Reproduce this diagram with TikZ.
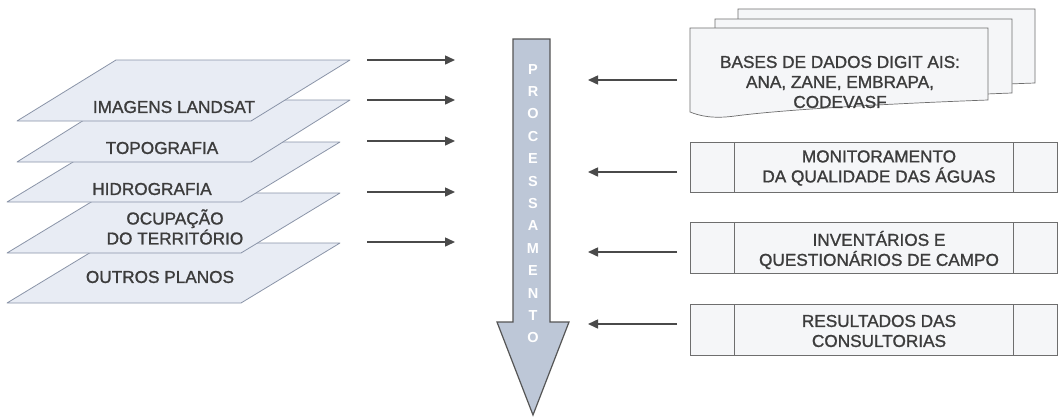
\documentclass[tikz,border=0pt]{standalone}
\usepackage{fontspec}
\setmainfont{Liberation Sans}[BoldFont={Liberation Sans}, BoldFeatures={FakeBold=1.2}]
\newfontfamily\realbold{Liberation Sans Bold}
\usetikzlibrary{arrows.meta}
\definecolor{layerfill}{HTML}{E8ECF4}
\definecolor{layerline}{HTML}{8A94A8}
\definecolor{txt}{HTML}{3C3C3C}
\definecolor{arrowc}{HTML}{4A4A4A}
\definecolor{bigfill}{HTML}{BDC7D7}
\definecolor{bigline}{HTML}{555555}
\definecolor{boxfill}{HTML}{F5F6F8}
\definecolor{boxline}{HTML}{6E6E6E}
\tikzset{
  layer/.style={draw=layerline, fill=layerfill, line width=0.8pt, line join=round},
  lbl/.style={font=\bfseries\fontsize{17.2}{20}\selectfont, text=txt, align=center, inner sep=0pt},
  flow/.style={draw=arrowc, line width=1.5pt, -{Triangle[length=10pt,width=9pt]}},
  docshape/.style={draw=boxline, fill=boxfill, line width=0.7pt},
  procbox/.style={draw=boxline, fill=boxfill, line width=0.8pt},
}
\begin{document}
\begin{tikzpicture}[x=1pt,y=-1pt]
\useasboundingbox (0,0) rectangle (1058,418);
\fill[white] (0,0) rectangle (1058,418);
% layers, bottom first
\draw[layer] (106,243) -- (340,243) -- (241,303) -- (7,303) -- cycle;
\draw[layer] (106,193) -- (340,193) -- (241,253) -- (7,253) -- cycle;
\draw[layer] (106,142) -- (340,142) -- (241,202) -- (7,202) -- cycle;
\draw[layer] (116,100) -- (350,100) -- (251,162) -- (17,162) -- cycle;
\draw[layer] (116,60) -- (350,60) -- (251,121) -- (17,121) -- cycle;
\node[lbl] (l1) at (174,107) {IMAGENS LANDSAT};
\node[lbl] (l2) at (162,148) {TOPOGRAFIA};
\node[lbl] (l3) at (152,189) {HIDROGRAFIA};
\node[lbl] (l4) at (175,227) {OCUPAÇÃO\\DO TERRITÓRIO};
\node[lbl] (l5) at (160,277) {OUTROS PLANOS};
% left arrows
\foreach \y [count=\i] in {60,100,141,192,242} {
  \coordinate (ls\i) at (367,\y);
  \coordinate (le\i) at (455,\y);
  \draw[flow] (ls\i) -- (le\i);
}
% big arrow
\draw[fill=bigfill, draw=bigline, line width=1.2pt, line join=miter]
  (513,39) -- (550,39) -- (550,322) -- (569,322) -- (533,415) -- (497,322) -- (513,322) -- cycle;
\node[font=\realbold\fontsize{14.5}{22.4}\selectfont, text=white, align=center, inner sep=0pt] (proc) at (533,203.5)
  {P\\R\\O\\C\\E\\S\\S\\A\\M\\E\\N\\T\\O};
% document stack
\draw[docshape] (738,9) -- (1035,9) -- (1035,83) .. controls (950,86) and (850,92) .. (790,96) -- (738,96) -- cycle;
\draw[docshape] (715,19) -- (1012,19) -- (1012,93) .. controls (930,96) and (830,102) .. (770,106) -- (715,106) -- cycle;
\draw[docshape] (690,28) -- (988,28) -- (988,100) .. controls (880,104) and (780,110) .. (735,116) .. controls (713,119) and (700,116) .. (690,112) -- cycle;
\node[lbl] (db) at (840,82) {\fontsize{17.2}{19.5}\selectfont BASES DE DADOS DIGIT AIS:\\ANA, ZANE, EMBRAPA,\\CODEVASF};
% process boxes
\foreach \t/\b/\n in {142/192/b2, 222/273/b3, 304/355/b4} {
  \draw[procbox] (690,\t) rectangle (1057,\b);
  \draw[boxline, line width=0.8pt] (734,\t) -- (734,\b) (1013,\t) -- (1013,\b);
}
\node[lbl] (m) at (879,168) {\fontsize{17.2}{21.5}\selectfont MONITORAMENTO\\DA QUALIDADE DAS ÁGUAS};
\node[lbl] (inv) at (879,250) {\fontsize{17.2}{21.5}\selectfont INVENTÁRIOS E\\QUESTIONÁRIOS DE CAMPO};
\node[lbl] (res) at (879,331) {\fontsize{17.2}{21.5}\selectfont RESULTADOS DAS\\CONSULTORIAS};
% right arrows
\foreach \y [count=\i] in {80,172,252,324} {
  \coordinate (rs\i) at (677,\y);
  \coordinate (re\i) at (588,\y);
  \draw[flow] (rs\i) -- (re\i);
}
\end{tikzpicture}
\end{document}
